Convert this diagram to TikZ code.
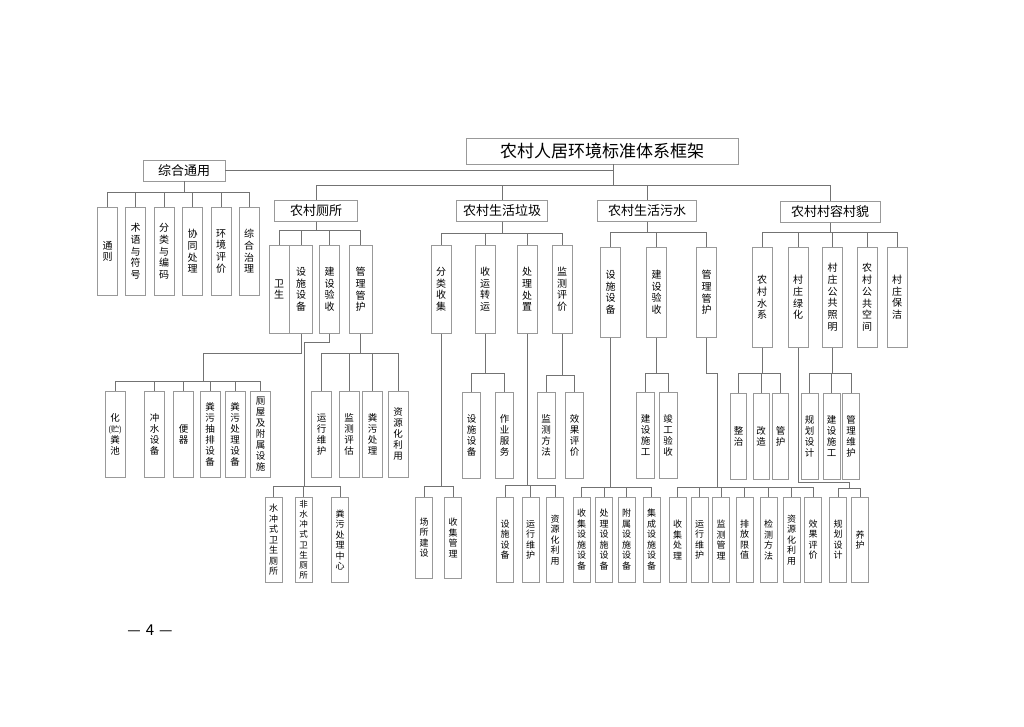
\documentclass[tikz,border=0pt]{standalone}
\usepackage{fontspec}
\setmainfont{Noto Sans CJK SC}
\usetikzlibrary{positioning}

\tikzset{
  box/.style={draw=black!40, line width=0.6pt, inner sep=0pt},
  rootbox/.style={box, font=\fontsize{17}{20}\selectfont, minimum width=272pt, minimum height=26pt},
  catbox/.style={box, font=\fontsize{13}{15}\selectfont, minimum height=21pt},
  colbox/.style={box, anchor=north, align=center, minimum width=20pt},
  lvtwo/.style={colbox, font=\fontsize{10}{11.8}\selectfont, minimum height=#1},
  lvtwo/.default=88pt,
  lvthree/.style={colbox, font=\fontsize{9.5}{11}\selectfont, minimum height=86pt},
  lvfour/.style={colbox, font=\fontsize{9}{10.5}\selectfont, minimum width=17pt, minimum height=85pt},
  link/.style={draw=black!55, line width=0.6pt},
}

\begin{document}
\begin{tikzpicture}[x=1pt,y=-1pt]
\fill[white] (0,0) rectangle (1024,727);
\useasboundingbox (0,0) rectangle (1024,727);

% head
\node[rootbox] (root) at (602,151) {农村人居环境标准体系框架};
\node[catbox, minimum width=82pt] (zh) at (184,170.5) {综合通用};

\node[catbox, anchor=north, minimum width=83pt] (wc) at (316,200) {农村厕所};
\node[catbox, anchor=north, minimum width=91pt] (lj) at (502,200) {农村生活垃圾};
\node[catbox, anchor=north, minimum width=99pt] (ws) at (647,200) {农村生活污水};
\node[catbox, anchor=north, minimum width=100pt] (cr) at (830,201) {农村村容村貌};

% 综合通用
\node[lvtwo] (tz) at (107.5,207) {通\\则};
\node[lvtwo] (sy) at (135.5,207) {术\\语\\与\\符\\号};
\node[lvtwo] (fb) at (164,207) {分\\类\\与\\编\\码};
\node[lvtwo] (xt) at (192.5,207) {协\\同\\处\\理};
\node[lvtwo] (hp) at (221,207) {环\\境\\评\\价};
\node[lvtwo] (zl) at (249,207) {综\\合\\治\\理};

% 厕所
\node[lvtwo] (wsh) at (279,245) {卫\\生};
\node[lvtwo, minimum width=23pt, right=0pt of wsh] (ssb) {设\\施\\设\\备};
\node[lvtwo] (jys) at (329.5,245) {建\\设\\验\\收};
\node[lvtwo, minimum width=23pt] (glh) at (360.5,245) {管\\理\\管\\护};

% 垃圾
\node[lvtwo] (flj) at (441,245) {分\\类\\收\\集};
\node[lvtwo] (syz) at (485,245) {收\\运\\转\\运};
\node[lvtwo] (clz) at (527,245) {处\\理\\处\\置};
\node[lvtwo] (jcp) at (562,245) {监\\测\\评\\价};

% 污水
\node[lvtwo=90pt] (sss) at (610.5,247) {设\\施\\设\\备};
\node[lvtwo=90pt] (jyw) at (656.5,247) {建\\设\\验\\收};
\node[lvtwo=90pt] (glw) at (706.5,247) {管\\理\\管\\护};

% 村容村貌
\node[lvtwo=100pt] (ncs) at (762,247) {农\\村\\水\\系};
\node[lvtwo=100pt] (czl) at (798,247) {村\\庄\\绿\\化};
\node[lvtwo=100pt] (ggz) at (832.5,247) {村\\庄\\公\\共\\照\\明};
\node[lvtwo=100pt] (ggk) at (867,247) {农\\村\\公\\共\\空\\间};
\node[lvtwo=100pt] (czb) at (897,247) {村\\庄\\保\\洁};

% third row
\node[lvthree] (hfc) at (115,391) {化\\{\fontsize{8}{10}\selectfont(贮)}\\粪\\池};
\node[lvthree] (csb) at (154.5,391) {冲\\水\\设\\备};
\node[lvthree] (bqi) at (183.5,391) {便\\器};
\node[lvthree] (cpb) at (210,391) {粪\\污\\抽\\排\\设\\备};
\node[lvthree] (fcb) at (235,391) {粪\\污\\处\\理\\设\\备};
\node[lvthree] (cwf) at (260.5,391) {厕\\屋\\及\\附\\属\\设\\施};
\node[lvthree] (yxh) at (321.5,391) {运\\行\\维\\护};
\node[lvthree] (jcg) at (349,391) {监\\测\\评\\估};
\node[lvthree] (fwc) at (372.5,391) {粪\\污\\处\\理};
\node[lvthree] (zyh) at (398,391) {资\\源\\化\\利\\用};

\node[lvthree, minimum width=18pt] (ljss) at (471.5,392) {设\\施\\设\\备};
\node[lvthree, minimum width=18pt] (zyfw) at (504.5,392) {作\\业\\服\\务};
\node[lvthree, minimum width=18pt] (jcff) at (546,392) {监\\测\\方\\法};
\node[lvthree, minimum width=18pt] (xgpj) at (574.5,392) {效\\果\\评\\价};
\node[lvthree, minimum width=18pt] (jssg) at (645.5,392) {建\\设\\施\\工};
\node[lvthree, minimum width=18pt] (jgys) at (668,392) {竣\\工\\验\\收};

\node[lvthree, minimum width=16pt] (zzh) at (738.5,393) {整\\治};
\node[lvthree, minimum width=16pt] (gzh) at (761,393) {改\\造};
\node[lvthree, minimum width=16pt] (ghu) at (780.5,393) {管\\护};
\node[lvthree, minimum width=17pt] (ghsj) at (809.5,393) {规\\划\\设\\计};
\node[lvthree, minimum width=17pt] (jssc) at (831.5,393) {建\\设\\施\\工};
\node[lvthree, minimum width=17pt] (glwh) at (851,393) {管\\理\\维\\护};

% fourth row
\node[lvfour] (scws) at (273.5,497) {水\\冲\\式\\卫\\生\\厕\\所};
\node[lvfour, font=\fontsize{8.5}{10.2}\selectfont] (fsc) at (303.5,497) {非\\水\\冲\\式\\卫\\生\\厕\\所};
\node[lvfour] (fwzx) at (340,497) {粪\\污\\处\\理\\中\\心};
\node[lvfour, minimum height=81pt] (cssj) at (424,497) {场\\所\\建\\设};
\node[lvfour, minimum height=81pt] (sjgl) at (453,497) {收\\集\\管\\理};
\node[lvfour] (ssbf) at (505,497) {设\\施\\设\\备};
\node[lvfour] (yxwh) at (530.5,497) {运\\行\\维\\护};
\node[lvfour] (zyly) at (555,497) {资\\源\\化\\利\\用};
\node[lvfour] (sjss) at (581.5,497) {收\\集\\设\\施\\设\\备};
\node[lvfour] (clss) at (604,497) {处\\理\\设\\施\\设\\备};
\node[lvfour] (fsss) at (626.5,497) {附\\属\\设\\施\\设\\备};
\node[lvfour] (jcss) at (651.5,497) {集\\成\\设\\施\\设\\备};
\node[lvfour] (sjcl) at (677.5,497) {收\\集\\处\\理};
\node[lvfour] (yxwt) at (699.5,497) {运\\行\\维\\护};
\node[lvfour] (jcgl) at (721,497) {监\\测\\管\\理};
\node[lvfour] (pfxz) at (744.5,497) {排\\放\\限\\值};
\node[lvfour] (jcfe) at (768.5,497) {检\\测\\方\\法};
\node[lvfour] (zylt) at (791.5,497) {资\\源\\化\\利\\用};
\node[lvfour] (xgpt) at (813,497) {效\\果\\评\\价};
\node[lvfour] (ghst) at (838,497) {规\\划\\设\\计};
\node[lvfour] (yhu) at (860,497) {养\\护};

\node[font=\fontsize{15}{17}\selectfont] (pg) at (150,630) {—\hspace{5pt}4\hspace{5pt}—};

% links, head
\coordinate (tj) at (613,185);
\draw[link] (tj |- root.south) -- (tj);
\draw[link] (zh.east) -- (zh.east -| tj);
\foreach \nd in {wc,lj,ws,cr} \draw[link] (tj) -| (\nd.north);

\foreach \nd in {tz,sy,fb,xt,hp,zl} \draw[link] (zh.south) -- ++(0,11) -| (\nd.north);
\foreach \nd in {wsh,ssb,jys,glh} \draw[link] (wc.south) -- ++(0,9) -| (\nd.north);
\foreach \nd in {flj,syz,clz,jcp} \draw[link] (lj.south) -- ++(0,12) -| (\nd.north);
\foreach \nd in {sss,jyw,glw} \draw[link] (ws.south) -- ++(0,11) -| (\nd.north);
\foreach \nd in {ncs,czl,ggz,ggk,czb} \draw[link] (cr.south) -- ++(0,10) -| (\nd.north);

% links, 厕所
\coordinate (ka) at (203,353);
\coordinate (kb) at (203,381);
\draw[link] (ssb.south) |- (ka) -- (kb);
\foreach \nd in {hfc,csb,bqi,cpb,fcb,cwf} \draw[link] (kb) -| (\nd.north);
\foreach \nd in {yxh,jcg,fwc,zyh} \draw[link] (glh.south) -- ++(0,20) -| (\nd.north);
\coordinate (kc) at (304,342);
\coordinate (kd) at (304,486);
\draw[link] (jys.south) |- (kc) -- (kd);
\foreach \nd in {scws,fsc,fwzx} \draw[link] (kd) -| (\nd.north);

% links, 垃圾
\foreach \nd in {cssj,sjgl} \draw[link] (flj.south) -- ++(0,153) -| (\nd.north);
\foreach \nd in {ljss,zyfw} \draw[link] (syz.south) -- ++(0,40) -| (\nd.north);
\foreach \nd in {ssbf,yxwh,zyly} \draw[link] (clz.south) -- ++(0,152) -| (\nd.north);
\foreach \nd in {jcff,xgpj} \draw[link] (jcp.south) -- ++(0,42) -| (\nd.north);

% links, 污水
\foreach \nd in {sjss,clss,fsss,jcss} \draw[link] (sss.south) -- ++(0,150) -| (\nd.north);
\foreach \nd in {jssg,jgys} \draw[link] (jyw.south) -- ++(0,36) -| (\nd.north);
\coordinate (ke) at (717,373);
\coordinate (kf) at (717,487);
\draw[link] (glw.south) |- (ke) -- (kf);
\foreach \nd in {sjcl,yxwt,jcgl,pfxz,jcfe,zylt,xgpt} \draw[link] (kf) -| (\nd.north);

% links, 村容村貌
\foreach \nd in {zzh,gzh,ghu} \draw[link] (ncs.south) -- ++(0,26) -| (\nd.north);
\foreach \nd in {ghsj,jssc,glwh} \draw[link] (ggz.south) -- ++(0,26) -| (\nd.north);
\coordinate (kg) at (849,482);
\coordinate (kh) at (849,488);
\draw[link] (czl.south) |- (kg) -- (kh);
\foreach \nd in {ghst,yhu} \draw[link] (kh) -| (\nd.north);
\end{tikzpicture}
\end{document}
